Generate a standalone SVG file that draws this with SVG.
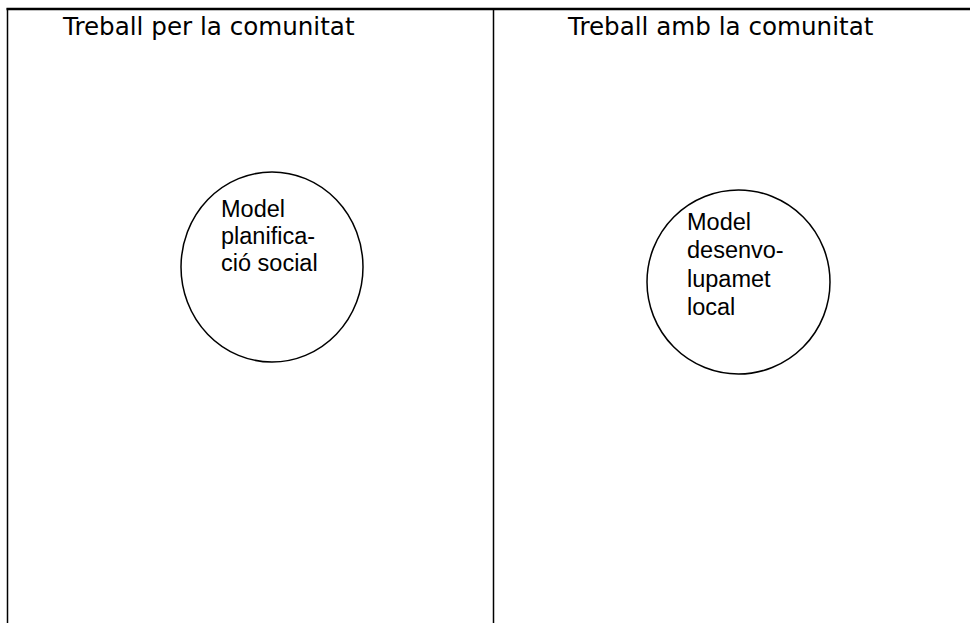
<svg xmlns="http://www.w3.org/2000/svg" width="970" height="623" viewBox="0 0 970 623">
<style>
.frame{stroke:#000;fill:none}
.head{font-family:"DejaVu Sans",Verdana,sans-serif;font-size:24.6px;fill:#000}
.node ellipse{fill:#fff;stroke:#000;stroke-width:1.5}
.node text{font-family:"Liberation Sans",Arial,sans-serif;font-size:23.5px;fill:#000}
</style>
<rect width="970" height="623" fill="#fff"/>
<g id="table">
<line class="frame" x1="6.5" y1="9" x2="970" y2="9" stroke-width="2.5"/>
<line class="frame" x1="7.5" y1="8" x2="7.5" y2="623" stroke-width="1.5"/>
<line class="frame" x1="493.5" y1="8" x2="493.5" y2="623" stroke-width="1.5"/>
<text class="head" x="63" y="35">Treball per la comunitat</text>
<text class="head" x="568" y="35">Treball amb la comunitat</text>
</g>
<g id="model-planificacio" class="node">
<ellipse cx="272" cy="267" rx="91" ry="95"/>
<text x="221" y="217">Model</text>
<text x="221" y="244">planifica-</text>
<text x="221" y="271">ció social</text>
</g>
<g id="model-desenvolupament" class="node">
<ellipse cx="738.5" cy="282" rx="91.5" ry="92"/>
<text x="687" y="230">Model</text>
<text x="687" y="258">desenvo-</text>
<text x="687" y="287">lupamet</text>
<text x="687" y="315">local</text>
</g>
<g id="connectors"/>
</svg>
